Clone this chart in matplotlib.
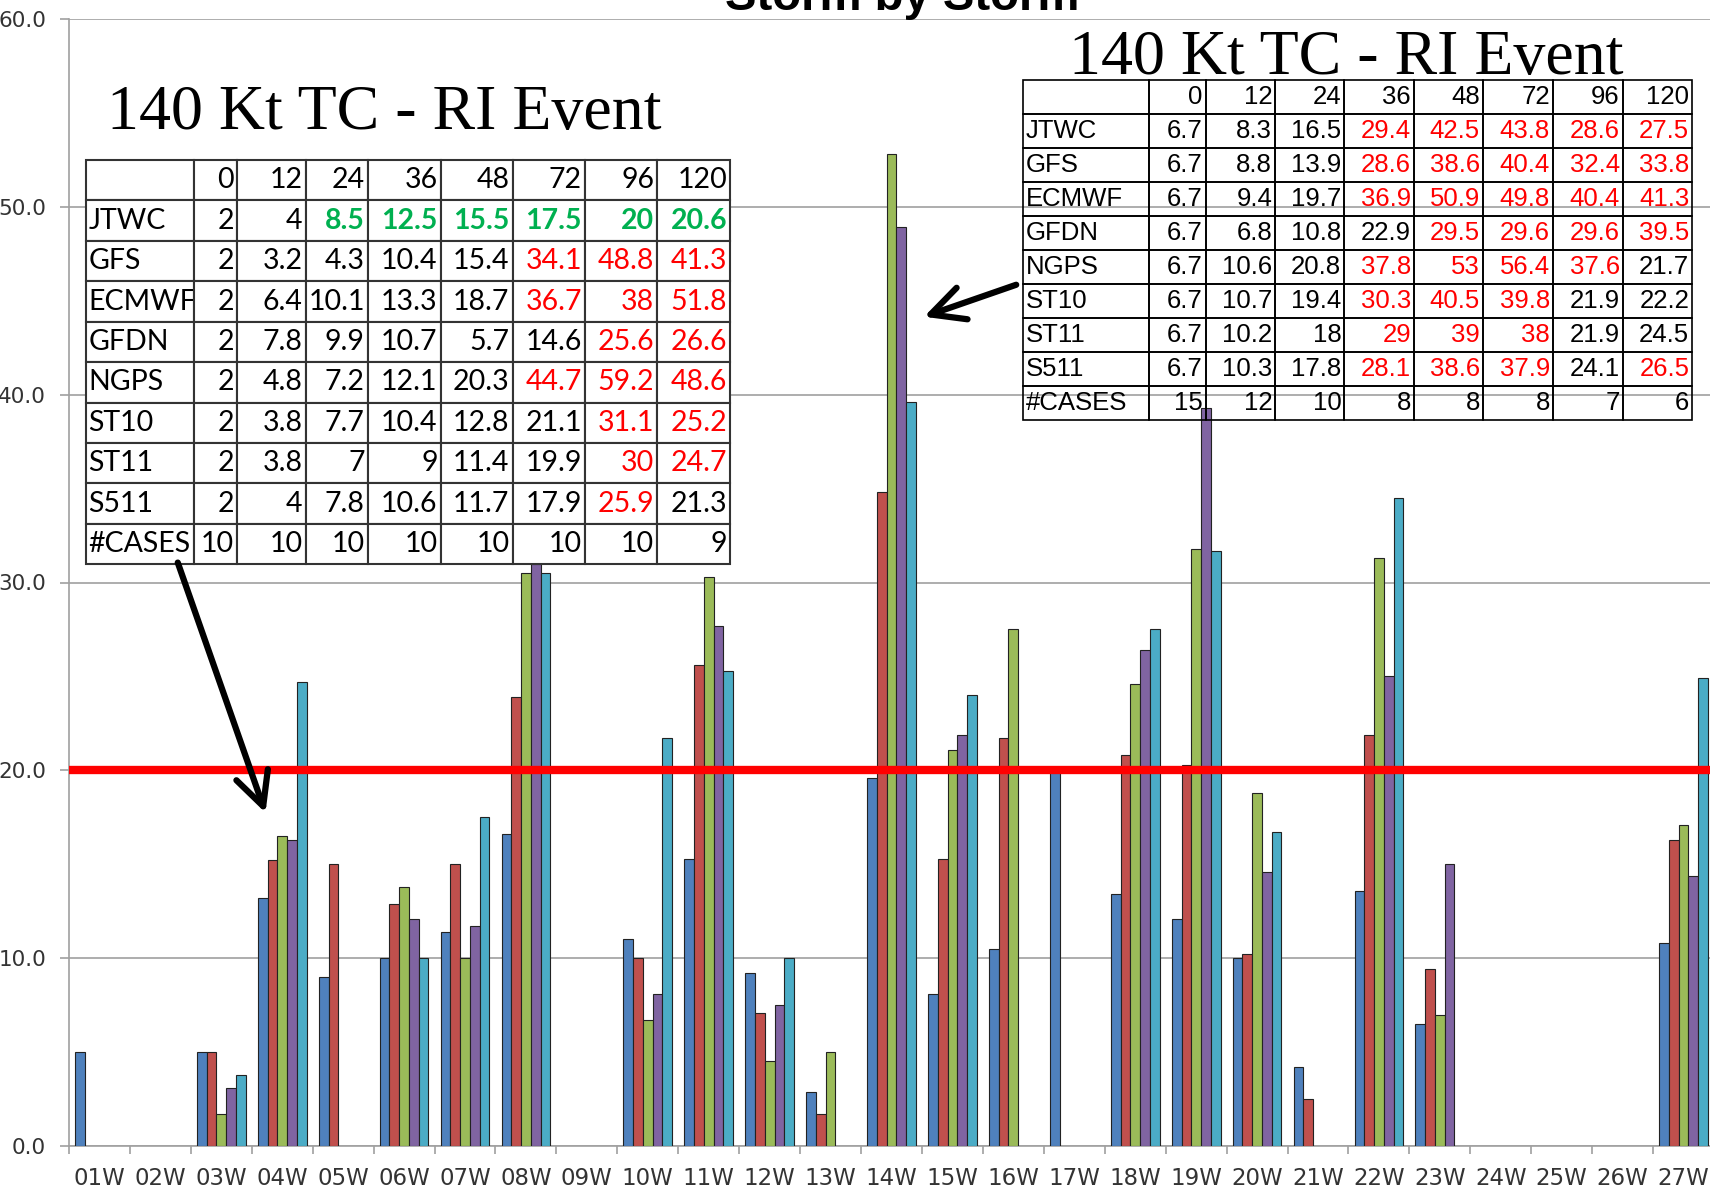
import matplotlib

matplotlib.use("Agg")
import matplotlib.pyplot as plt
import numpy as np
from matplotlib.patches import FancyArrowPatch
from matplotlib.ticker import FormatStrFormatter

nan = np.nan

# storms on the x axis
storms = ["01W", "02W", "03W", "04W", "05W", "06W", "07W", "08W", "09W",
          "10W", "11W", "12W", "13W", "14W", "15W", "16W", "17W", "18W",
          "19W", "20W", "21W", "22W", "23W", "24W", "25W", "26W", "27W"]

# five bar series per storm (nan = no bar)
series_1 = [5.0, nan, 5.0, 13.2, 9.0, 10.0, 11.4, 16.6, nan, 11.0, 15.3, 9.2, 2.9, 19.6,
            8.1, 10.5, 20.0, 13.4, 12.1, 10.0, 4.2, 13.6, 6.5, nan, nan, nan, 10.8]
series_2 = [nan, nan, 5.0, 15.2, 15.0, 12.9, 15.0, 23.9, nan, 10.0, 25.6, 7.1, 1.7, 34.8,
            15.3, 21.7, nan, 20.8, 20.3, 10.2, 2.5, 21.9, 9.4, nan, nan, nan, 16.3]
series_3 = [nan, nan, 1.7, 16.5, nan, 13.8, 10.0, 30.5, nan, 6.7, 30.3, 4.5, 5.0, 52.8,
            21.1, 27.5, nan, 24.6, 31.8, 18.8, nan, 31.3, 7.0, nan, nan, nan, 17.1]
series_4 = [nan, nan, 3.1, 16.3, nan, 12.1, 11.7, 31.0, nan, 8.1, 27.7, 7.5, nan, 48.9,
            21.9, nan, nan, 26.4, 39.3, 14.6, nan, 25.0, 15.0, nan, nan, nan, 14.4]
series_5 = [nan, nan, 3.8, 24.7, nan, 10.0, 17.5, 30.5, nan, 21.7, 25.3, 10.0, nan, 39.6,
            24.0, nan, nan, 27.5, 31.7, 16.7, nan, 34.5, nan, nan, nan, nan, 24.9]
threshold = 20.0

# tables
lead_hours = ["0", "12", "24", "36", "48", "72", "96", "120"]
table_rows = ["JTWC", "GFS", "ECMWF", "GFDN", "NGPS", "ST10", "ST11", "S511", "#CASES"]
left_values = [
    [2, 4, 8.5, 12.5, 15.5, 17.5, 20, 20.6],
    [2, 3.2, 4.3, 10.4, 15.4, 34.1, 48.8, 41.3],
    [2, 6.4, 10.1, 13.3, 18.7, 36.7, 38, 51.8],
    [2, 7.8, 9.9, 10.7, 5.7, 14.6, 25.6, 26.6],
    [2, 4.8, 7.2, 12.1, 20.3, 44.7, 59.2, 48.6],
    [2, 3.8, 7.7, 10.4, 12.8, 21.1, 31.1, 25.2],
    [2, 3.8, 7, 9, 11.4, 19.9, 30, 24.7],
    [2, 4, 7.8, 10.6, 11.7, 17.9, 25.9, 21.3],
    [10, 10, 10, 10, 10, 10, 10, 9],
]
right_values = [
    [6.7, 8.3, 16.5, 29.4, 42.5, 43.8, 28.6, 27.5],
    [6.7, 8.8, 13.9, 28.6, 38.6, 40.4, 32.4, 33.8],
    [6.7, 9.4, 19.7, 36.9, 50.9, 49.8, 40.4, 41.3],
    [6.7, 6.8, 10.8, 22.9, 29.5, 29.6, 29.6, 39.5],
    [6.7, 10.6, 20.8, 37.8, 53, 56.4, 37.6, 21.7],
    [6.7, 10.7, 19.4, 30.3, 40.5, 39.8, 21.9, 22.2],
    [6.7, 10.2, 18, 29, 39, 38, 21.9, 24.5],
    [6.7, 10.3, 17.8, 28.1, 38.6, 37.9, 24.1, 26.5],
    [15, 12, 10, 8, 8, 8, 7, 6],
]

W, H = 1710, 1196
colors = ["#4F81BD", "#C0504D", "#9BBB59", "#8064A2", "#4BACC6"]
grey = "#a0a0a0"

fig = plt.figure(figsize=(W / 100, H / 100), dpi=100)
ax = fig.add_axes([69 / W, 50 / H, 1645 / W, 1127 / H])

x = np.arange(len(storms))
bar_w = 0.16
for k, (vals, color) in enumerate(zip([series_1, series_2, series_3, series_4, series_5], colors)):
    ax.bar(x + (k - 2) * bar_w, vals, width=bar_w, color=color,
           edgecolor="#222222", linewidth=0.8, zorder=3)

ax.axhline(threshold, color="#ff0000", lw=6, zorder=4)

ax.set_xlim(-0.5, len(storms) - 0.5)
ax.set_ylim(0, 60)
ax.set_yticks(np.arange(0, 61, 10))
ax.yaxis.set_major_formatter(FormatStrFormatter("%.1f"))
ax.grid(axis="y", color=grey, lw=1.2, zorder=0)
ax.set_axisbelow(True)
for side in ("top", "right"):
    ax.spines[side].set_visible(False)
for side in ("left", "bottom"):
    ax.spines[side].set_color(grey)
    ax.spines[side].set_linewidth(1.2)

ax.set_xticks(x, storms)
ax.set_xticks(np.arange(-0.5, len(storms), 1), minor=True)
ax.tick_params(axis="x", which="major", length=0, pad=15, labelsize=16.5, labelcolor="#333333")
ax.tick_params(axis="x", which="minor", length=6, color=grey, width=1.2)
ax.tick_params(axis="y", length=6.5, color=grey, width=1.2, pad=10, labelsize=15.5,
               labelcolor="#333333")

fig.text(902 / W, 1 - 10 / H, "Storm by Storm", family="Liberation Sans", weight="bold",
         size=34, ha="center", va="baseline")


def cell_color(name, lead, value, red_above, green_row=None):
    if name == "#CASES":
        return "black", "normal"
    if green_row is not None and name == green_row and int(lead) >= 24:
        return "#00B050", "bold"
    if value > red_above:
        return "#ff0000", "normal"
    return "black", "normal"


def add_table(rect_px, values, col_px, family, size, edge, lw, fill, red_above, green_row=None):
    left, top, right, bottom = rect_px
    tax = fig.add_axes([left / W, 1 - bottom / H, (right - left) / W, (bottom - top) / H])
    tax.axis("off")
    tax.patch.set_visible(False)
    cell_text = [[""] + lead_hours]
    for name, vals in zip(table_rows, values):
        cell_text.append([name] + [f"{v:g}" for v in vals])
    tbl = tax.table(cellText=cell_text, colWidths=col_px, bbox=[0, 0, 1, 1], cellLoc="right")
    tbl.auto_set_font_size(False)
    for (r, c), cell in tbl.get_celld().items():
        cell.set_edgecolor(edge)
        cell.set_linewidth(lw)
        cell.set_facecolor(fill)
        cell.PAD = 3.0 / col_px[c]
        t = cell.get_text()
        t.set_fontfamily(family)
        t.set_fontsize(size)
        if c == 0:
            t.set_horizontalalignment("left")
        if r > 0 and c > 0:
            col, wt = cell_color(table_rows[r - 1], lead_hours[c - 1], values[r - 1][c - 1],
                                 red_above, green_row)
            t.set_color(col)
            t.set_fontweight(wt)
    return tax


add_table((85.5, 160, 730, 564.3), left_values,
          [108.1, 43.4, 68.6, 62.3, 72.8, 72.0, 72.3, 72.4, 72.8],
          ["Lato", "DejaVu Sans"], 20.5, "#333333", 1.5, "white", 22, green_row="JTWC")
add_table((1022.5, 80, 1692.3, 420), right_values,
          [126.8, 56.3, 69.6, 69.1, 69.7, 69.0, 70.0, 69.7, 69.6],
          ["Liberation Sans", "DejaVu Sans"], 18.5, "black", 1.2, "none", 25)

fig.text(107 / W, 1 - 129 / H, "140 Kt TC - RI Event", family="Liberation Serif", size=46,
         va="baseline")
fig.text(1069 / W, 1 - 74 / H, "140 Kt TC - RI Event", family="Liberation Serif", size=46,
         va="baseline")

for tail, tip in [((1.27, 31.2), (2.74, 17.6)), ((15.09, 45.9), (13.49, 44.1))]:
    arrow = FancyArrowPatch(tail, tip, transform=ax.transData,
                            arrowstyle="->,head_length=1.0,head_width=0.5",
                            mutation_scale=24, lw=4.5, color="black", zorder=6)
    fig.add_artist(arrow)

fig.savefig("out.png", dpi=100)
